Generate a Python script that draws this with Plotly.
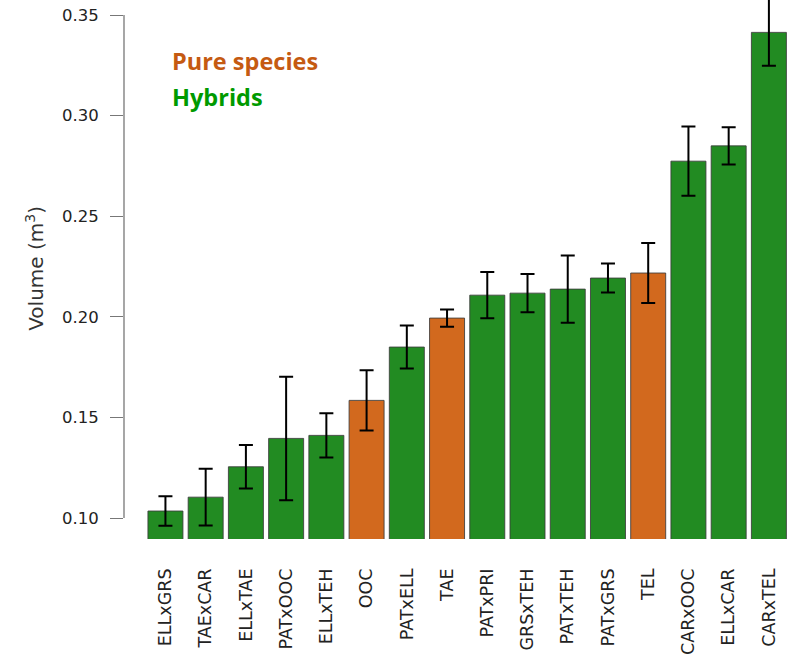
import plotly.graph_objects as go

categories = ["ELLxGRS", "TAExCAR", "ELLxTAE", "PATxOOC", "ELLxTEH", "OOC", "PATxELL", "TAE",
              "PATxPRI", "GRSxTEH", "PATxTEH", "PATxGRS", "TEL", "CARxOOC", "ELLxCAR", "CARxTEL"]
volume = [0.1035, 0.1104, 0.1255, 0.1396, 0.1411, 0.1585, 0.1850, 0.1994,
          0.2108, 0.2118, 0.2138, 0.2193, 0.2218, 0.2774, 0.2850, 0.3414]
error = [0.0073, 0.0141, 0.0108, 0.0307, 0.0110, 0.0150, 0.0107, 0.0043,
         0.0115, 0.0095, 0.0167, 0.0072, 0.0149, 0.0172, 0.0092, 0.0166]
pure_species = {"OOC", "TAE", "TEL"}
y_ticks = [0.10, 0.15, 0.20, 0.25, 0.30, 0.35]

PURE = "#D2691E"
HYB = "#228B22"
colors = [PURE if c in pure_species else HYB for c in categories]

fig = go.Figure()
fig.add_trace(go.Bar(
    x=categories, y=volume,
    marker=dict(color=colors, line=dict(color="rgba(60,60,60,0.85)", width=1)),
    error_y=dict(type="data", array=error, symmetric=True, color="black", thickness=2, width=7),
    showlegend=False,
))

fig.update_layout(
    width=787, height=658,
    margin=dict(l=124, r=0, t=0, b=119),
    paper_bgcolor="white", plot_bgcolor="white",
    bargap=0.13,
    font=dict(family="DejaVu Sans", size=16, color="#222"),
    xaxis=dict(
        type="category", range=[-1.03, 15.45],
        tickangle=-90, showgrid=False, showline=False, ticks="",
        ticklabelstandoff=25, tickfont=dict(size=17.5, color="#222"),
    ),
    yaxis=dict(
        range=[0.0896, 0.3575], tickvals=y_ticks,
        ticktext=[f"{v:.2f}" for v in y_ticks],
        ticks="outside", ticklen=13, tickcolor="#777", tickwidth=1.3,
        showgrid=False, zeroline=False, showline=False,
        ticklabelstandoff=8, tickfont=dict(size=16.5, color="#222"),
    ),
)

fig.add_shape(type="line", xref="paper", yref="y", x0=0, x1=0,
              y0=y_ticks[0], y1=y_ticks[-1], line=dict(color="#777", width=1.3))

fig.add_annotation(text="Volume (m<sup>3</sup>)", xref="paper", yref="paper",
                   x=-0.157, y=0.503, textangle=-90, showarrow=False,
                   font=dict(family="DejaVu Sans", size=20, color="#333"))
fig.add_annotation(text="<b>Pure species</b>", xref="paper", yref="paper",
                   x=0.0694, y=0.887, xanchor="left", yanchor="middle", showarrow=False,
                   font=dict(family="Open Sans", size=23.5, color="#C55A11"))
fig.add_annotation(text="<b>Hybrids</b>", xref="paper", yref="paper",
                   x=0.0694, y=0.82, xanchor="left", yanchor="middle", showarrow=False,
                   font=dict(family="Open Sans", size=23.5, color="#009A00"))

fig.write_html("out.html")
